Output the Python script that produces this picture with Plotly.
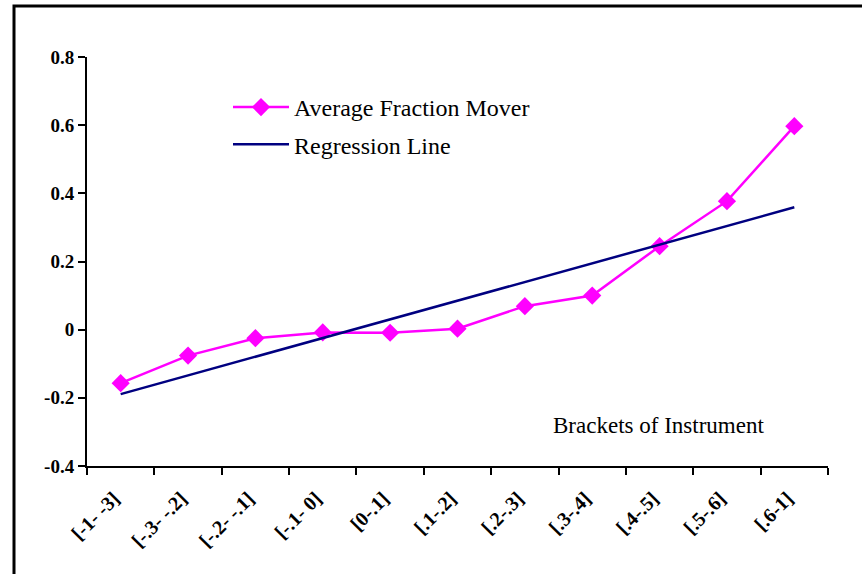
import plotly.graph_objects as go

categories = ["[-1- -3]", "[-.3- -.2]", "[-.2- -.1]", "[-.1- 0]", "[0-.1]", "[.1-.2]",
              "[.2-.3]", "[.3-.4]", "[.4-.5]", "[.5-.6]", "[.6-1]"]
avg_fraction_mover = [-0.157, -0.076, -0.025, -0.008, -0.009, 0.003, 0.069, 0.100, 0.245, 0.377, 0.597]
regression_x = [categories[0], categories[-1]]
regression_y = [-0.189, 0.359]
y_tickvals = [0.8, 0.6, 0.4, 0.2, 0, -0.2, -0.4]
y_ticktext = ["0.8", "0.6", "0.4", "0.2", "0", "-0.2", "-0.4"]

SERIF = "Liberation Serif, Times New Roman, serif"

fig = go.Figure()
fig.add_trace(go.Scatter(
    x=categories, y=avg_fraction_mover, name="Average Fraction Mover",
    mode="lines+markers", legendgroup="a",
    line=dict(color="#FF00FF", width=2.5),
    marker=dict(symbol="diamond", size=14, color="#FF00FF"),
))
fig.add_trace(go.Scatter(
    x=regression_x, y=regression_y, name="Regression Line",
    mode="lines", legendgroup="b", line=dict(color="#000080", width=2.5),
))

fig.update_layout(
    width=862, height=574,
    margin=dict(l=87, r=34, t=57, b=108),
    paper_bgcolor="white", plot_bgcolor="white",
    font=dict(family=SERIF, color="black"),
    showlegend=True,
    legend=dict(
        x=(228 - 87) / 741, y=(466 - 85) / 409, xanchor="left", yanchor="top",
        bgcolor="rgba(0,0,0,0)", font=dict(family=SERIF, size=24, color="black"),
        itemwidth=56, traceorder="grouped", tracegroupgap=3,
    ),
    xaxis=dict(
        type="category", range=[-0.5, 10.5], tickson="boundaries",
        showline=True, linecolor="black", linewidth=2,
        ticks="outside", ticklen=7, tickwidth=2, tickcolor="black",
        tickangle=-45, tickfont=dict(family=SERIF, size=20, color="black", weight="bold"),
        ticklabelstandoff=11, ticklabelshift=-7,
        showgrid=False, zeroline=False,
    ),
    yaxis=dict(
        range=[-0.4, 0.8], tickvals=y_tickvals, ticktext=y_ticktext,
        showline=True, linecolor="black", linewidth=2,
        ticks="outside", ticklen=7, tickwidth=2, tickcolor="black",
        tickfont=dict(family=SERIF, size=19, color="black", weight="bold"),
        showgrid=False, zeroline=False,
    ),
    annotations=[dict(
        text="Brackets of Instrument", xref="paper", yref="paper",
        x=(658 - 87) / 741, y=(466 - 425) / 409, xanchor="center", yanchor="middle",
        showarrow=False, font=dict(family=SERIF, size=23, color="black"),
    )],
    shapes=[dict(
        type="rect", xref="paper", yref="paper",
        x0=(14 - 87) / 741, x1=1.2, y0=-0.5, y1=(466 - 6) / 409,
        line=dict(color="black", width=3), fillcolor="rgba(0,0,0,0)", layer="below",
    )],
)

fig.write_html("out.html", config={"displayModeBar": False},
               post_script="document.body.style.margin='0';")
